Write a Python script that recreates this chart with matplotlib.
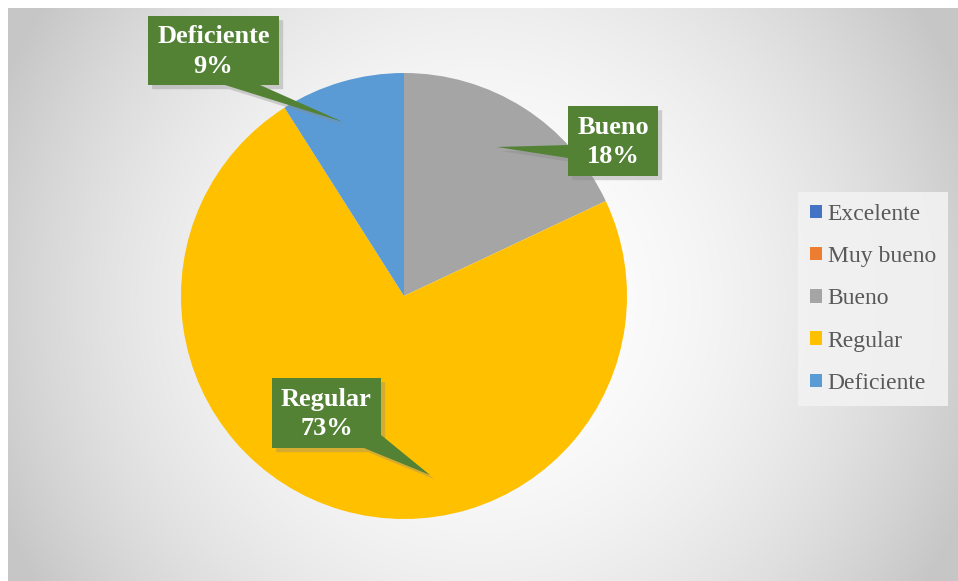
import numpy as np
import matplotlib
matplotlib.use("Agg")
import matplotlib.pyplot as plt
from matplotlib.patches import Patch, Polygon
import matplotlib.patheffects as pe

categories = ["Excelente", "Muy bueno", "Bueno", "Regular", "Deficiente"]
values = [0, 0, 18, 73, 9]
colors = ["#4472C4", "#ED7D31", "#A5A5A5", "#FFC000", "#5B9BD5"]

# callout layout in figure pixels (x right, y down)
callouts = {
    "Deficiente": [(148, 16), (279, 16), (279, 85), (260, 85), (343, 122), (225, 85), (148, 85)],
    "Bueno": [(568, 106), (658, 106), (658, 176), (568, 176), (568, 158), (497, 147), (568, 145)],
    "Regular": [(272, 378), (381, 378), (381, 435), (430, 475), (364, 448), (272, 448)],
}
boxes = {"Deficiente": (148, 16, 279, 85), "Bueno": (568, 106, 658, 176), "Regular": (272, 378, 381, 448)}

W, H = 958, 581
fig = plt.figure(figsize=(W / 100, H / 100), dpi=100)
fig.patch.set_facecolor("white")

# background radial gradient
bg = fig.add_axes([8 / W, 0, (W - 8) / W, (H - 8) / H])
yy, xx = np.mgrid[8:H, 8:W]
d = np.hypot(xx - 480, yy - 300)
shade = np.clip(255 - 46 * (d / 475) ** 2, 198, 255) / 255
bg.imshow(np.dstack([shade] * 3), aspect="auto", extent=(8, W, H, 8))
bg.set_axis_off()

# pie
cx, cy, r = 404, 296, 223
ax = fig.add_axes([(cx - r) / W, (H - cy - r) / H, 2 * r / W, 2 * r / H])
ax.pie(values, colors=colors, startangle=90, counterclock=False, radius=1,
       wedgeprops=dict(linewidth=0))
ax.set_xlim(-1, 1)
ax.set_ylim(-1, 1)
ax.set_axis_off()

# overlay for callouts
ov = fig.add_axes([0, 0, 1, 1])
ov.set_xlim(0, W)
ov.set_ylim(H, 0)
ov.set_axis_off()
ov.patch.set_alpha(0)
for name, pts in callouts.items():
    poly = Polygon(pts, closed=True, facecolor="#548235", edgecolor="none",
                   path_effects=[pe.SimplePatchShadow(offset=(3, -3), shadow_rgbFace="#888888", alpha=0.35),
                                 pe.Normal()])
    ov.add_patch(poly)
    x0, y0, x1, y1 = boxes[name]
    pct = values[categories.index(name)]
    ov.text((x0 + x1) / 2, (y0 + y1) / 2 + 1, f"{name}\n{pct}%", ha="center", va="center",
            color="white", fontsize=19, fontweight="bold", family="Liberation Serif",
            linespacing=1.35)

# legend
handles = [Patch(facecolor=c, edgecolor="none") for c in colors]
leg = fig.legend(handles, categories, loc="upper left", bbox_to_anchor=(798 / W, 1 - 192 / H),
                 frameon=True, fancybox=False, prop={"family": "Liberation Serif", "size": 17},
                 labelcolor="#595959", handlelength=0.5, handleheight=0.5, handletextpad=0.25,
                 labelspacing=0.9, borderpad=0.5, borderaxespad=0)
leg.get_frame().set_facecolor("#f2f2f2")
leg.get_frame().set_edgecolor("none")
leg.get_frame().set_alpha(0.9)

fig.savefig("out.png", dpi=100)
